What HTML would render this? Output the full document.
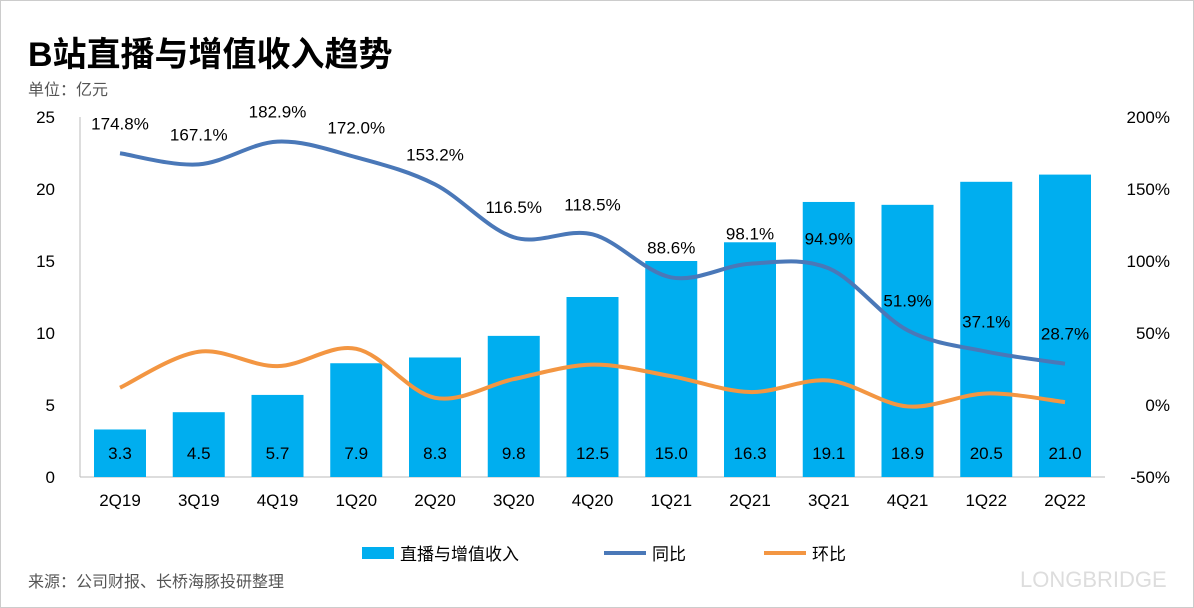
<!DOCTYPE html>
<html><head><meta charset="utf-8"><style>
body{margin:0;background:#fff;}
svg{display:block;font-family:"Liberation Sans","Noto Sans CJK SC",sans-serif;}
</style></head><body>
<svg id="c" width="1194" height="608">
<rect x="0.5" y="0.5" width="1193" height="607" fill="#fff" stroke="#ccc"/>
<text x="28" y="66" font-size="34" font-weight="bold" fill="#000">B站直播与增值收入趋势</text>
<text x="28" y="95" font-size="16" fill="#555">单位：亿元</text>
<text x="28" y="587" font-size="16" fill="#555">来源：公司财报、长桥海豚投研整理</text>
<text x="1020" y="587" font-size="22" fill="#ddd">LONGBRIDGE</text>
<g id="g"></g>
</svg>
<script>
const categories=["2Q19","3Q19","4Q19","1Q20","2Q20","3Q20","4Q20","1Q21","2Q21","3Q21","4Q21","1Q22","2Q22"];
const revenue=[3.3,4.5,5.7,7.9,8.3,9.8,12.5,15.0,16.3,19.1,18.9,20.5,21.0];
const yoy=[174.8,167.1,182.9,172.0,153.2,116.5,118.5,88.6,98.1,94.9,51.9,37.1,28.7];
const qoq=[12,37,27,39,5,18,28,20,9,17,-1,8,2];
const leftTicks=[0,5,10,15,20,25];
const rightTicks=[-50,0,50,100,150,200];
const NS="http://www.w3.org/2000/svg",g=document.getElementById('g');
function mk(t,a,txt){const e=document.createElementNS(NS,t);for(const k in a)e.setAttribute(k,a[k]);if(txt!=null)e.textContent=txt;g.appendChild(e);return e;}
const x=i=>120+i*78.75, yL=v=>477-v*14.4, yR=v=>405-v*1.44;
let e;
e=mk('line',{x1:80,x2:80,y1:117,y2:477,stroke:'#bbb'});

e=mk('line',{x1:80,x2:1105,y1:477,y2:477,stroke:'#bbb'});

leftTicks.forEach(v=>{e=mk('text',{x:55,y:yL(v)+6,'font-size':17,'text-anchor':'end',fill:'#000'},v);
});
rightTicks.forEach(v=>{e=mk('text',{x:1170,y:yR(v)+6,'font-size':17,'text-anchor':'end',fill:'#000'},v+'%');
});
categories.forEach((c,i)=>{e=mk('text',{x:x(i),y:506,'font-size':17,'text-anchor':'middle',fill:'#000'},c);
});
revenue.forEach((v,i)=>{e=mk('rect',{x:x(i)-26,y:yL(v),width:52,height:v*14.4,fill:'#00AEEF'});

e=mk('text',{x:x(i),y:459,'font-size':17,'text-anchor':'middle',fill:'#000'},v.toFixed(1));
});
function smooth(p){let d=`M${p[0][0]},${p[0][1]}`;for(let i=0;i<p.length-1;i++){const p0=p[i-1]||p[i],p1=p[i],p2=p[i+1],p3=p[i+2]||p2;
d+=` C${p1[0]+(p2[0]-p0[0])/6},${p1[1]+(p2[1]-p0[1])/6} ${p2[0]-(p3[0]-p1[0])/6},${p2[1]-(p3[1]-p1[1])/6} ${p2[0]},${p2[1]}`;}return d;}
e=mk('path',{d:smooth(qoq.map((v,i)=>[x(i),yR(v)])),fill:'none',stroke:'#F39642','stroke-width':4});

e=mk('path',{d:smooth(yoy.map((v,i)=>[x(i),yR(v)])),fill:'none',stroke:'#4A78B8','stroke-width':4});

yoy.forEach((v,i)=>{e=mk('text',{x:x(i),y:yR(v)-24,'font-size':17,'text-anchor':'middle',fill:'#000'},v.toFixed(1)+'%');
});
e=mk('rect',{x:362,y:547,width:32,height:12,fill:'#00AEEF'});

e=mk('text',{x:400,y:560,'font-size':17,fill:'#000'},'直播与增值收入');

e=mk('line',{x1:604,x2:646,y1:553,y2:553,stroke:'#4A78B8','stroke-width':4});

e=mk('text',{x:652,y:560,'font-size':17,fill:'#000'},'同比');

e=mk('line',{x1:764,x2:806,y1:553,y2:553,stroke:'#F39642','stroke-width':4});

e=mk('text',{x:812,y:560,'font-size':17,fill:'#000'},'环比');

</script>
</body></html>
